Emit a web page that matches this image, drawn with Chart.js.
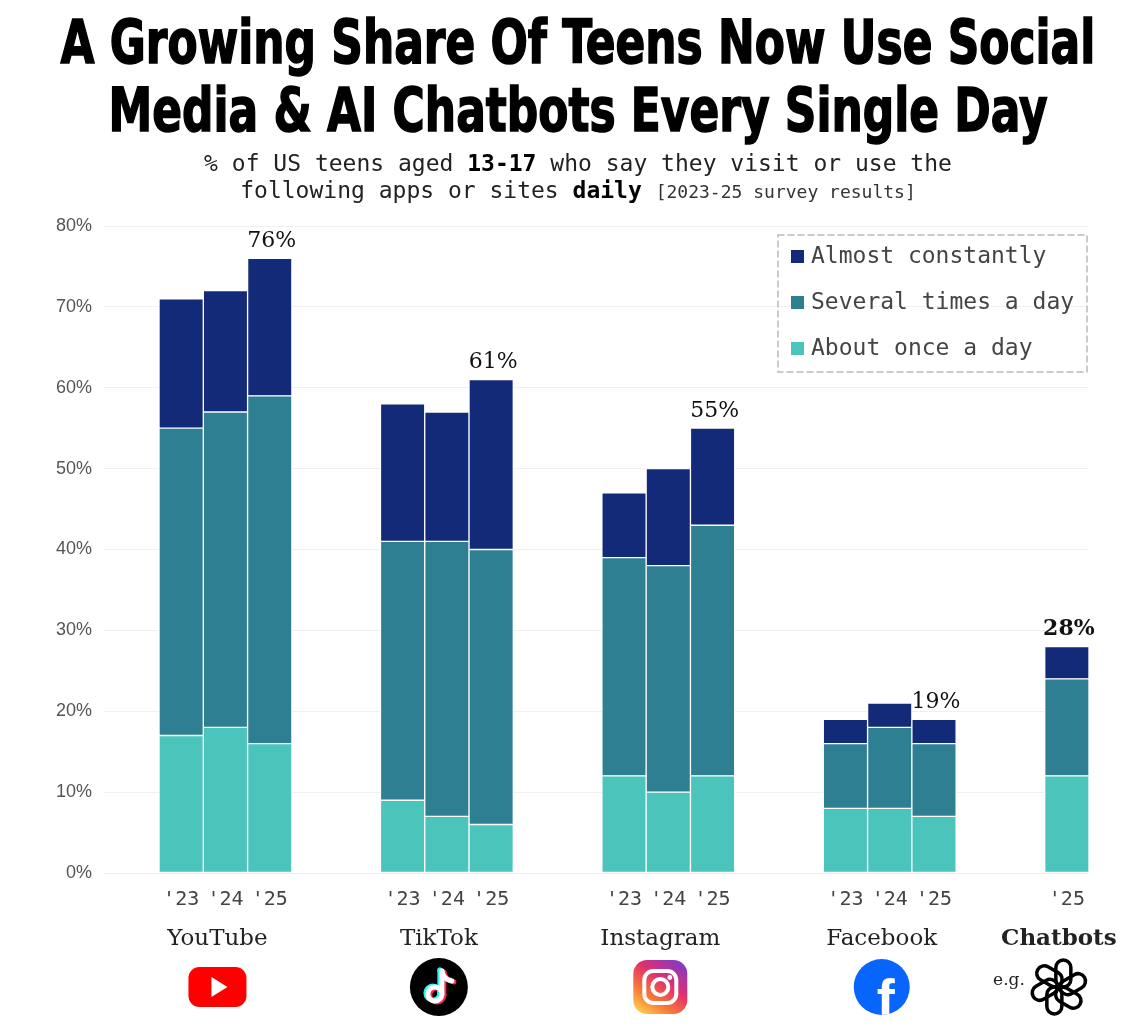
<!DOCTYPE html>
<html>
<head>
<meta charset="utf-8">
<script src="https://cdn.jsdelivr.net/npm/chart.js@4.4.1/dist/chart.umd.min.js"></script>
<style>
  html, body { margin: 0; padding: 0; background: #fff; }
  #wrap { position: relative; width: 1136px; height: 1028px; overflow: hidden; }
  #chart { position: absolute; left: 0; top: 0; }
  h1 {
    position: absolute; left: -422px; top: 8px; width: 2000px; margin: 0;
    text-align: center; font-family: "DejaVu Sans Condensed", "DejaVu Sans", sans-serif;
    font-stretch: condensed; font-weight: bold; font-size: 60px; line-height: 68px;
    color: #000; -webkit-text-stroke: 1.5px #000; white-space: nowrap;
  }
  h1 span { display: inline-block; transform-origin: center; }
  .sub {
    position: absolute; left: 10px; top: 150px; width: 1136px; margin: 0;
    text-align: center; font-family: "DejaVu Sans Mono", monospace; font-size: 23px;
    line-height: 27px; color: #222; white-space: nowrap;
  }
  .sub b { color: #000; }
  .sub small { font-size: 18px; color: #333; }
</style>
</head>
<body>
<div id="wrap">
  <canvas id="chart" width="1136" height="1028"></canvas>
  <h1><span>A Growing Share Of Teens Now Use Social</span><br><span>Media &amp; AI Chatbots Every Single Day</span></h1>
  <p class="sub">% of US teens aged <b>13-17</b> who say they visit or use the<br>following apps or sites <b>daily</b> <small>[2023-25 survey results]</small></p>
</div>
<script>
// values, one entry per bar (platform by platform)
const platforms = ['YouTube', 'TikTok', 'Instagram', 'Facebook', 'Chatbots'];
const barPlatform = [0, 0, 0, 1, 1, 1, 2, 2, 2, 3, 3, 3, 4];
const barYear = ["'23", "'24", "'25", "'23", "'24", "'25", "'23", "'24", "'25", "'23", "'24", "'25", "'25"];
const aboutOnce = [17, 18, 16, 9, 7, 6, 12, 10, 12, 8, 8, 7, 12];
const severalTimes = [38, 39, 43, 32, 34, 34, 27, 28, 31, 8, 10, 9, 12];
const almostConstantly = [16, 15, 17, 17, 16, 21, 8, 12, 12, 3, 3, 3, 4];
const seriesNames = ['About once a day', 'Several times a day', 'Almost constantly'];
const seriesColors = ['#4bc4bb', '#2e7f92', '#132a79'];
const gapSlots = 2;

// squeeze the title to the width of the original headline
const spans = document.querySelectorAll('h1 span');
const squeeze = 1035 / spans[0].offsetWidth;
spans.forEach(s => s.style.transform = 'scaleX(' + squeeze + ')');

// lay bars out on a category axis with empty slots between platforms
const labels = [];
const slotOf = [];
barPlatform.forEach((p, i) => {
    if (i > 0 && p !== barPlatform[i - 1]) {
        for (let g = 0; g < gapSlots; g++) labels.push('');
    }
    slotOf.push(labels.length);
    labels.push(barYear[i]);
});

function spread(values) {
    const out = labels.map(() => null);
    values.forEach((v, i) => out[slotOf[i]] = v);
    return out;
}

const seriesValues = [aboutOnce, severalTimes, almostConstantly];

function drawYouTube(ctx, cx, cy) {
    ctx.fillStyle = '#ff0000';
    ctx.beginPath();
    ctx.roundRect(cx - 29, cy - 20, 58, 40, 11);
    ctx.fill();
    ctx.fillStyle = '#fff';
    ctx.beginPath();
    ctx.moveTo(cx - 6, cy - 10);
    ctx.lineTo(cx - 6, cy + 10);
    ctx.lineTo(cx + 10, cy);
    ctx.closePath();
    ctx.fill();
}

function tiktokNote(ctx, cx, cy, color) {
    ctx.strokeStyle = color;
    ctx.lineWidth = 5;
    ctx.lineCap = 'round';
    ctx.beginPath();
    ctx.moveTo(cx + 3, cy - 16);
    ctx.lineTo(cx + 3, cy + 7);
    ctx.stroke();
    ctx.beginPath();
    ctx.arc(cx - 4, cy + 7, 7, 0, Math.PI * 2);
    ctx.stroke();
    ctx.beginPath();
    ctx.moveTo(cx + 3, cy - 16);
    ctx.quadraticCurveTo(cx + 5, cy - 7, cx + 13, cy - 6);
    ctx.stroke();
}

function drawTikTok(ctx, cx, cy) {
    ctx.fillStyle = '#000';
    ctx.beginPath();
    ctx.arc(cx, cy, 29, 0, Math.PI * 2);
    ctx.fill();
    tiktokNote(ctx, cx - 2, cy - 1, '#25f4ee');
    tiktokNote(ctx, cx + 2, cy + 1, '#fe2c55');
    tiktokNote(ctx, cx, cy, '#fff');
}

function drawInstagram(ctx, cx, cy) {
    const g = ctx.createLinearGradient(cx - 20, cy + 28, cx + 20, cy - 28);
    g.addColorStop(0, '#fdd14f');
    g.addColorStop(0.3, '#f77737');
    g.addColorStop(0.6, '#e1306c');
    g.addColorStop(1, '#7a3ad0');
    ctx.fillStyle = g;
    ctx.beginPath();
    ctx.roundRect(cx - 27, cy - 27, 54, 54, 14);
    ctx.fill();
    ctx.strokeStyle = '#fff';
    ctx.lineWidth = 4;
    ctx.beginPath();
    ctx.roundRect(cx - 16, cy - 16, 32, 32, 9);
    ctx.stroke();
    ctx.beginPath();
    ctx.arc(cx, cy, 8, 0, Math.PI * 2);
    ctx.stroke();
    ctx.fillStyle = '#fff';
    ctx.beginPath();
    ctx.arc(cx + 9.5, cy - 9.5, 2.4, 0, Math.PI * 2);
    ctx.fill();
}

function drawFacebook(ctx, cx, cy) {
    ctx.save();
    ctx.fillStyle = '#0866ff';
    ctx.beginPath();
    ctx.arc(cx, cy, 28, 0, Math.PI * 2);
    ctx.fill();
    ctx.clip();
    ctx.fillStyle = '#fff';
    ctx.font = 'bold 54px "Liberation Sans"';
    ctx.textAlign = 'center';
    ctx.textBaseline = 'alphabetic';
    ctx.fillText('f', cx + 4, cy + 30);
    ctx.restore();
}

function drawOpenAI(ctx, cx, cy) {
    ctx.save();
    ctx.translate(cx, cy);
    ctx.strokeStyle = '#000';
    ctx.lineWidth = 3.5;
    for (let k = 0; k < 6; k++) {
        ctx.save();
        ctx.rotate(k * Math.PI / 3);
        ctx.beginPath();
        ctx.roundRect(-3, -27, 15, 27, 7.5);
        ctx.stroke();
        ctx.restore();
    }
    ctx.restore();
}

const icons = [drawYouTube, drawTikTok, drawInstagram, drawFacebook, drawOpenAI];

const decor = {
    id: 'decor',
    afterDatasetsDraw(chart) {
        const { ctx, chartArea, scales: { x, y } } = chart;
        ctx.save();

        // totals above the latest bar of each platform
        platforms.forEach((name, p) => {
            const idx = barPlatform.lastIndexOf(p);
            const total = aboutOnce[idx] + severalTimes[idx] + almostConstantly[idx];
            ctx.font = (p === platforms.length - 1 ? 'bold ' : '') + '22px "DejaVu Serif"';
            ctx.fillStyle = '#111';
            ctx.textAlign = 'center';
            ctx.textBaseline = 'bottom';
            ctx.fillText(total + '%', x.getPixelForValue(slotOf[idx]) + 2, y.getPixelForValue(total) - 6);
        });

        // platform names and icons
        platforms.forEach((name, p) => {
            const first = barPlatform.indexOf(p);
            const last = barPlatform.lastIndexOf(p);
            const cx = (x.getPixelForValue(slotOf[first]) + x.getPixelForValue(slotOf[last])) / 2 - 8;
            ctx.font = (p === platforms.length - 1 ? 'bold ' : '') + '23px "DejaVu Serif"';
            ctx.fillStyle = '#222';
            ctx.textAlign = 'center';
            ctx.textBaseline = 'middle';
            ctx.fillText(name, cx, chartArea.bottom + 66);
            icons[p](ctx, cx, chartArea.bottom + 114);
            if (p === platforms.length - 1) {
                ctx.font = '17px "DejaVu Serif"';
                ctx.fillStyle = '#222';
                ctx.textAlign = 'right';
                ctx.fillText('e.g.', cx - 34, chartArea.bottom + 108);
            }
        });

        // legend box
        const bw = 309, bh = 137;
        const bx = chartArea.right - bw - 2, by = chartArea.top + 9;
        ctx.setLineDash([6, 4]);
        ctx.strokeStyle = '#bbb';
        ctx.lineWidth = 1.5;
        ctx.strokeRect(bx, by, bw, bh);
        ctx.setLineDash([]);
        ctx.font = '23px "DejaVu Sans Mono"';
        ctx.textAlign = 'left';
        ctx.textBaseline = 'middle';
        for (let i = 0; i < seriesNames.length; i++) {
            const s = seriesNames.length - 1 - i;
            const ly = by + 22 + i * 46;
            ctx.fillStyle = seriesColors[s];
            ctx.fillRect(bx + 13, ly - 7, 13, 13);
            ctx.fillStyle = '#444';
            ctx.fillText(seriesNames[s], bx + 33, ly);
        }
        ctx.restore();
    }
};

new Chart(document.getElementById('chart'), {
    type: 'bar',
    data: {
        labels: labels,
        datasets: seriesNames.map((name, s) => ({
            label: name,
            data: spread(seriesValues[s]),
            backgroundColor: seriesColors[s],
            borderColor: '#fff',
            borderWidth: 1,
            borderSkipped: false,
            barPercentage: 1,
            categoryPercentage: 1
        }))
    },
    options: {
        responsive: false,
        animation: false,
        layout: { padding: { top: 226, left: 44, right: 47, bottom: 109 } },
        plugins: {
            legend: { display: false },
            tooltip: { enabled: false }
        },
        scales: {
            x: {
                stacked: true,
                grid: { display: false },
                border: { display: false },
                ticks: {
                    autoSkip: false,
                    maxRotation: 0,
                    padding: 7,
                    color: '#444',
                    font: { family: 'DejaVu Sans Mono', size: 20 }
                }
            },
            y: {
                stacked: true,
                min: 0,
                max: 80,
                border: { display: false },
                grid: { color: '#f0f0f0', tickColor: '#f0f0f0', tickLength: 55 },
                ticks: {
                    stepSize: 10,
                    padding: 12,
                    color: '#555',
                    font: { family: 'Liberation Sans', size: 18 },
                    callback: v => v + '%'
                }
            }
        }
    },
    plugins: [decor]
});
</script>
</body>
</html>
